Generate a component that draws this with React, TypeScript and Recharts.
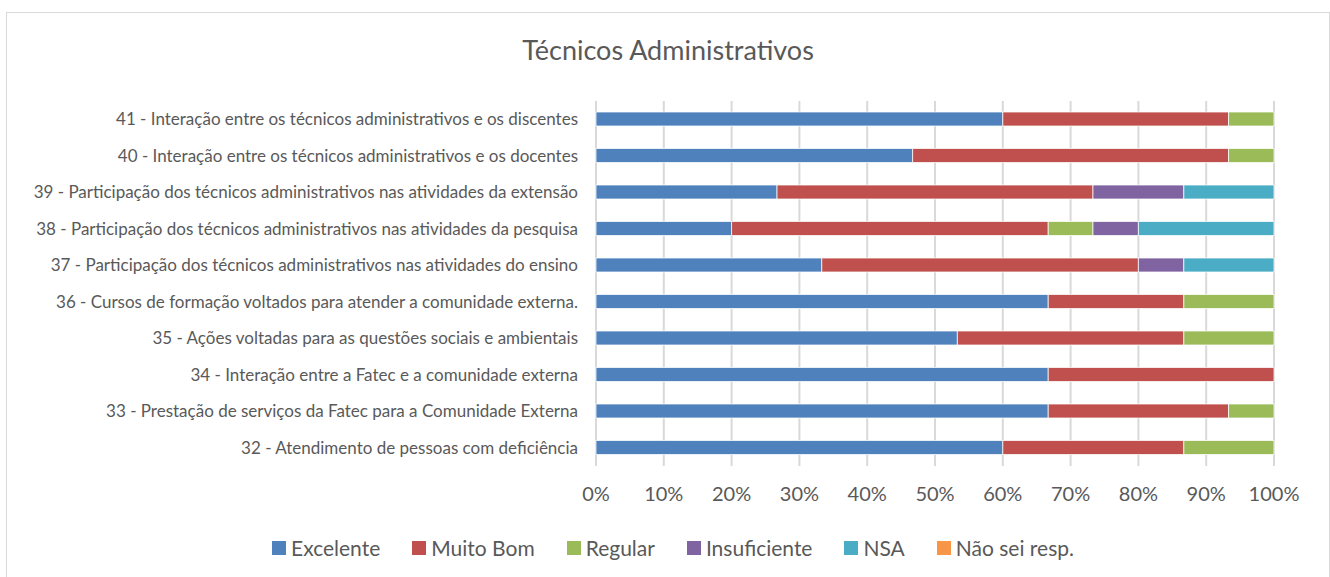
import React from "react";
import { BarChart, Bar, XAxis, YAxis, CartesianGrid } from "recharts";

const categories = [
  "41 - Interação entre os técnicos administrativos e os discentes",
  "40 - Interação entre os técnicos administrativos e os docentes",
  "39 - Participação dos técnicos administrativos nas atividades da extensão",
  "38 - Participação dos técnicos administrativos nas atividades da pesquisa",
  "37 - Participação dos técnicos administrativos nas atividades do ensino",
  "36 - Cursos de formação voltados para atender a comunidade externa.",
  "35 - Ações voltadas para as questões sociais e ambientais",
  "34 - Interação entre a Fatec e a comunidade externa",
  "33 - Prestação de serviços da Fatec para a Comunidade Externa",
  "32 - Atendimento de pessoas com deficiência",
];

// percentages
const excelente = [60, 46.7, 26.7, 20, 33.3, 66.7, 53.3, 66.7, 66.7, 60];
const muitoBom = [33.3, 46.6, 46.6, 46.7, 46.7, 20, 33.4, 33.3, 26.6, 26.7];
const regular = [6.7, 6.7, 0, 6.6, 0, 13.3, 13.3, 0, 6.7, 13.3];
const insuficiente = [0, 0, 13.4, 6.7, 6.7, 0, 0, 0, 0, 0];
const nsa = [0, 0, 13.3, 20, 13.3, 0, 0, 0, 0, 0];
const naoSei = [0, 0, 0, 0, 0, 0, 0, 0, 0, 0];

const ticks = [0, 0.1, 0.2, 0.3, 0.4, 0.5, 0.6, 0.7, 0.8, 0.9, 1];

const series = [
  { key: "Excelente", values: excelente, color: "#4f81bd" },
  { key: "Muito Bom", values: muitoBom, color: "#c0504d" },
  { key: "Regular", values: regular, color: "#9bbb59" },
  { key: "Insuficiente", values: insuficiente, color: "#8064a2" },
  { key: "NSA", values: nsa, color: "#4bacc6" },
  { key: "Não sei resp.", values: naoSei, color: "#f79646" },
];

const data = categories.map((name, i) => {
  const row: Record<string, string | number> = { name };
  series.forEach((s) => (row[s.key] = s.values[i]));
  return row;
});

const font = "Lato, 'Open Sans', sans-serif";
const textColor = "#595959";

export default function App() {
  return (
    <div
      style={{
        position: "absolute",
        left: 0,
        top: 0,
        width: 1330,
        height: 577,
        overflow: "hidden",
        background: "#fff",
        fontFamily: font,
      }}
    >
      <div
        style={{
          position: "absolute",
          left: 6,
          top: 12,
          width: 1322,
          height: 580,
          border: "1px solid #d9d9d9",
        }}
      />
      <div
        style={{
          position: "absolute",
          top: 33,
          left: 0,
          width: 1336,
          textAlign: "center",
          fontSize: 27,
          color: textColor,
        }}
      >
        Técnicos Administrativos
      </div>
      <div style={{ position: "absolute", left: 0, top: 0 }}>
        <BarChart
          width={1330}
          height={577}
          data={data}
          layout="vertical"
          stackOffset="expand"
          barSize={14}
          margin={{ top: 101, right: 56, bottom: 81, left: 0 }}
        >
          <CartesianGrid horizontal={false} stroke="#d9d9d9" strokeWidth={2} />
          <XAxis
            type="number"
            domain={[0, 1]}
            ticks={ticks}
            tickFormatter={(v: number) => `${Math.round(v * 100)}%`}
            axisLine={false}
            tickLine={false}
            tickMargin={15}
            height={30}
            tick={{ fontSize: 20, fill: textColor, fontFamily: font }}
          />
          <YAxis
            type="category"
            dataKey="name"
            width={596}
            axisLine={false}
            tickLine={false}
            tickMargin={12}
            interval={0}
            tick={{ fontSize: 17, fill: textColor, fontFamily: font }}
          />
          {series.map((s) => (
            <Bar
              key={s.key}
              dataKey={s.key}
              stackId="a"
              fill={s.color}
              stroke="#fff"
              strokeWidth={0.75}
              isAnimationActive={false}
            />
          ))}
        </BarChart>
      </div>
      <div
        style={{
          position: "absolute",
          top: 535,
          left: 0,
          width: 1346,
          display: "flex",
          justifyContent: "center",
          gap: 32,
          fontSize: 21,
          color: textColor,
        }}
      >
        {series.map((s) => (
          <div key={s.key} style={{ display: "flex", alignItems: "center" }}>
            <span
              style={{
                display: "inline-block",
                width: 14,
                height: 14,
                background: s.color,
                marginRight: 5,
              }}
            />
            <span>{s.key}</span>
          </div>
        ))}
      </div>
    </div>
  );
}
